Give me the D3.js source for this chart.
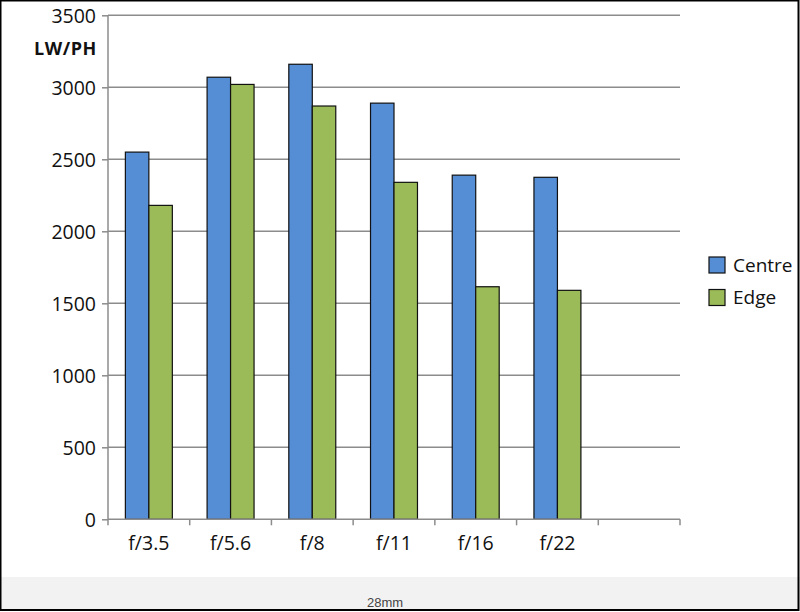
<!DOCTYPE html>
<html><head><meta charset="utf-8">
<script src="https://cdn.jsdelivr.net/npm/d3@7/dist/d3.min.js"></script>
<style>
html,body{margin:0;padding:0;background:#fff;}
svg{display:block;}
</style></head>
<body>
<script>
const categories = ["f/3.5","f/5.6","f/8","f/11","f/16","f/22",""];
const seriesNames = ["Centre","Edge"];
const centre = [2550,3070,3160,2890,2390,2375];
const edge = [2180,3020,2870,2340,1615,1590];
const yTicks = [0,500,1000,1500,2000,2500,3000,3500];
const yLabel = "LW/PH";
const caption = "28mm";

const W=800,H=612;
const colors={"Centre":"#558ed5","Edge":"#9bbb59"};
const svg=d3.select("body").append("svg").attr("width",W).attr("height",H);
svg.append("rect").attr("x",0).attr("y",0).attr("width",W).attr("height",H).attr("fill","#fff");
svg.append("rect").attr("x",0).attr("y",577).attr("width",W).attr("height",33).attr("fill","#f2f2f2");

const pLeft=108,pRight=680,pTop=15.3,pBottom=519.3;
const x=d3.scaleBand().domain(categories).range([pLeft,pRight]).paddingInner(0).paddingOuter(0);
const y=d3.scaleLinear().domain([0,3500]).range([pBottom,pTop]);
const font="'Open Sans', sans-serif";

// gridlines
svg.append("g").selectAll("line").data(yTicks.filter(d=>d>0)).join("line")
  .attr("x1",pLeft).attr("x2",pRight).attr("y1",d=>y(d)).attr("y2",d=>y(d))
  .attr("stroke","#8c8c8c").attr("stroke-width",1.5);

// bars
const data=categories.slice(0,6).map((c,i)=>({c,vals:[{s:"Centre",v:centre[i]},{s:"Edge",v:edge[i]}]}));
const inner=d3.scaleBand().domain(seriesNames).range([0,x.bandwidth()]).paddingOuter(0.74).paddingInner(0);
svg.append("g").selectAll("g").data(data).join("g")
  .attr("transform",d=>`translate(${x(d.c)},0)`)
  .selectAll("rect").data(d=>d.vals).join("rect")
  .attr("x",d=>inner(d.s)).attr("width",inner.bandwidth())
  .attr("y",d=>y(d.v)).attr("height",d=>y(0)-y(d.v))
  .attr("fill",d=>colors[d.s]).attr("stroke","#111").attr("stroke-width",1.2);

// y axis
const ya=svg.append("g").attr("transform",`translate(${pLeft},0)`)
  .call(d3.axisLeft(y).tickValues(yTicks).tickFormat(d3.format("d")).tickSize(6).tickPadding(6));
ya.select(".domain").attr("stroke","#8c8c8c").attr("stroke-width",1.5).attr("d",`M0,${pTop}V${pBottom}`);
ya.selectAll(".tick line").attr("stroke","#8c8c8c").attr("stroke-width",1.5);
ya.selectAll(".tick text").attr("font-family",font).attr("font-size",19.5).attr("fill","#111").attr("dy","0.35em");

// x axis
const xa=svg.append("g").attr("transform",`translate(0,${pBottom})`)
  .call(d3.axisBottom(x).tickSize(0).tickPadding(17));
xa.select(".domain").attr("stroke","#8c8c8c").attr("stroke-width",1.5).attr("d",`M${pLeft},0H${pRight}`);
xa.selectAll(".tick text").attr("font-family",font).attr("font-size",19.5).attr("fill","#111");
const xb=[...categories.map(c=>x(c)),pRight];
svg.append("g").selectAll("line").data(xb).join("line")
  .attr("x1",d=>d).attr("x2",d=>d).attr("y1",pBottom).attr("y2",pBottom+6)
  .attr("stroke","#8c8c8c").attr("stroke-width",1.5);

// y label
svg.append("text").attr("x",97).attr("y",55).attr("text-anchor","end")
  .attr("font-family",font).attr("font-weight","bold").attr("font-size",18).attr("letter-spacing",0.6).attr("fill","#111").text(yLabel);

// legend
const lg=svg.append("g").selectAll("g").data(seriesNames).join("g")
  .attr("transform",(d,i)=>`translate(709,${257+i*32.5})`);
lg.append("rect").attr("width",16).attr("height",16).attr("fill",d=>colors[d]).attr("stroke","#111").attr("stroke-width",1.2);
lg.append("text").attr("x",24).attr("y",8).attr("dy","0.35em").attr("font-family",font).attr("font-size",19).attr("fill","#111").text(d=>d);

// caption
svg.append("text").attr("x",385).attr("y",606.5).attr("text-anchor","middle")
  .attr("font-family","'Liberation Sans', Arial, sans-serif").attr("font-size",13).attr("fill","#444").text(caption);

// frame
svg.append("rect").attr("x",0.5).attr("y",0.5).attr("width",W-2).attr("height",H-2.5)
  .attr("fill","none").attr("stroke","#000").attr("stroke-width",2);
</script>
</body></html>
